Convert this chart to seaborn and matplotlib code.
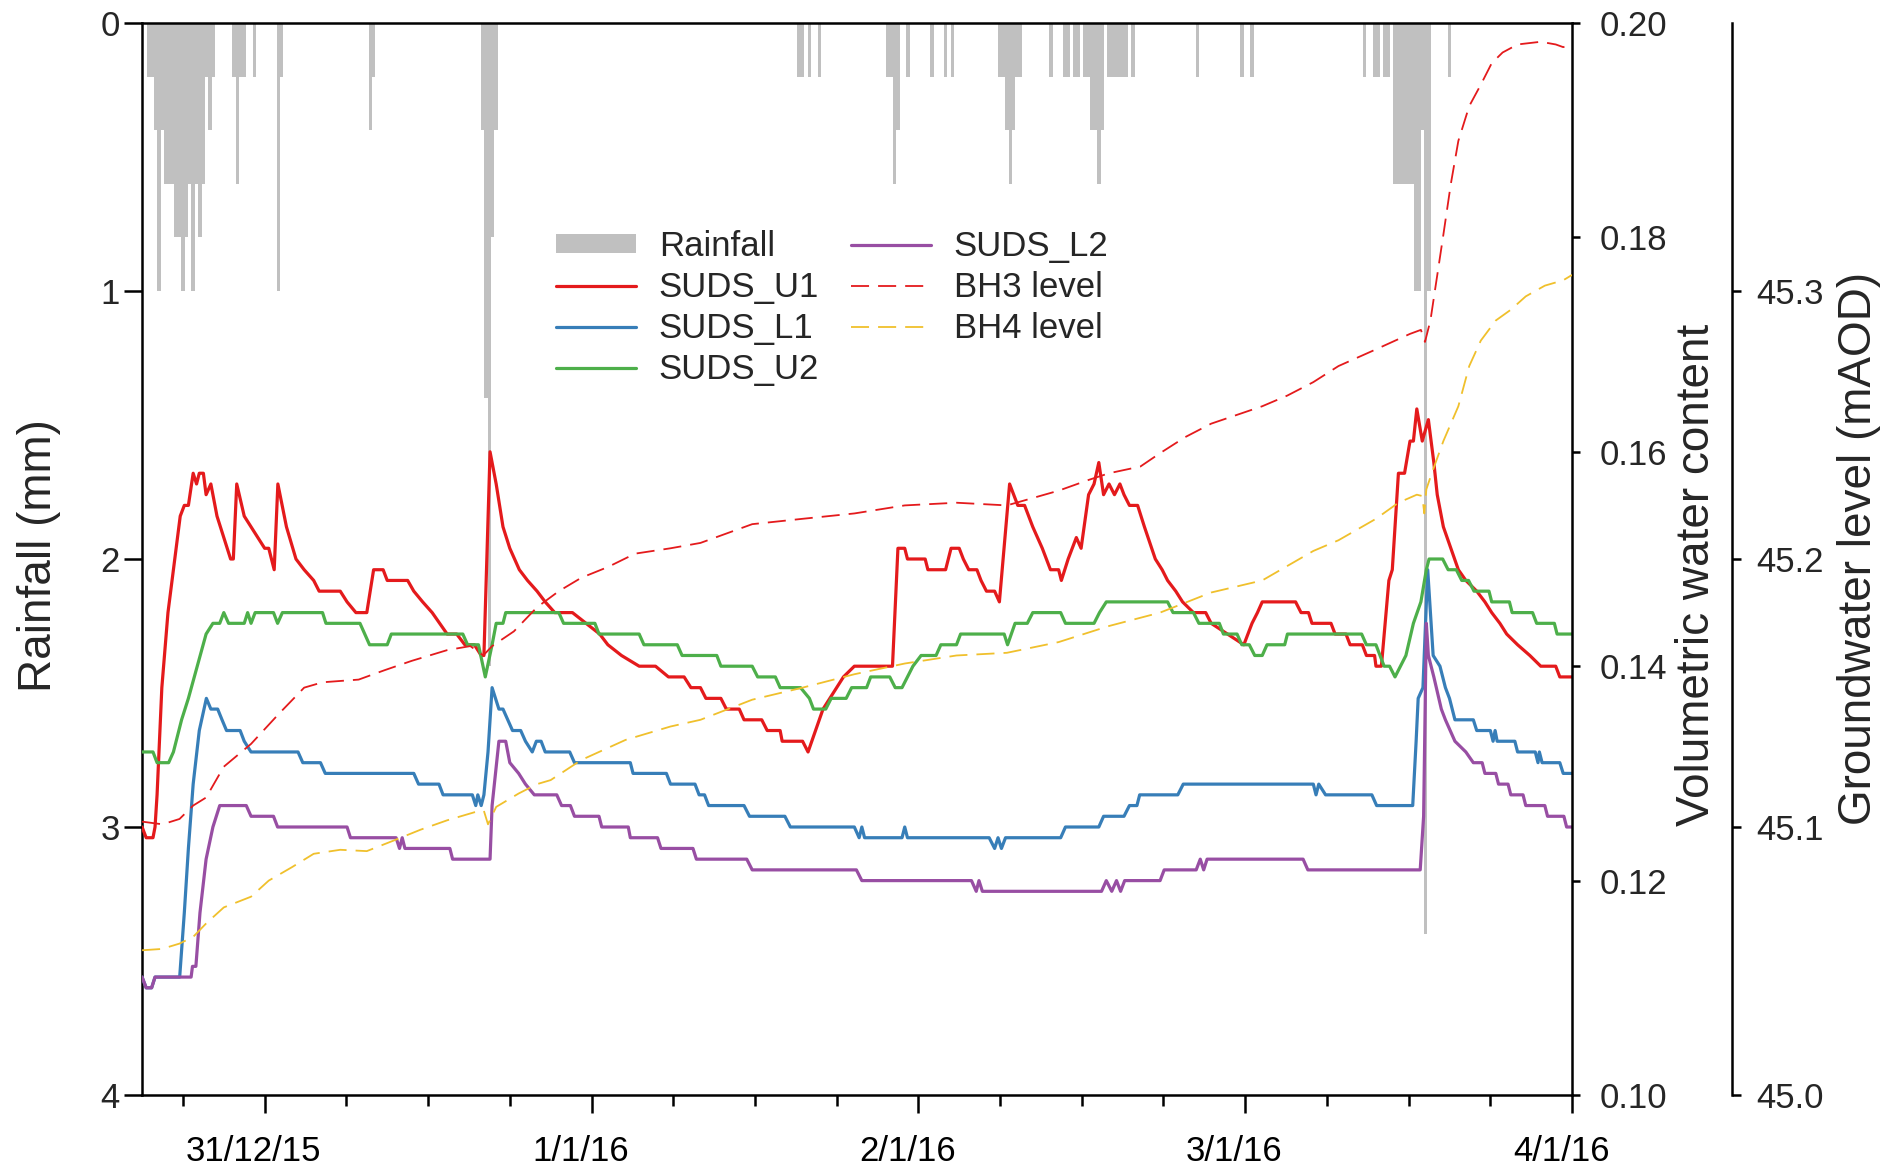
import pandas as pd
import numpy as np
import matplotlib
matplotlib.use('Agg')
import matplotlib.pyplot as plt
import matplotlib.dates as mdates
from matplotlib.transforms import ScaledTranslation
import seaborn as sns

# time origin, all times below are hours after this
t0 = pd.Timestamp('2015-12-30 15:00')

# rainfall, 15 min totals (hour, mm)
rain = [(0.5, 0.2), (0.75, 0.2), (1.0, 0.4), (1.25, 1.0), (1.5, 0.4), (1.75, 0.6), (2.0, 0.6),
        (2.25, 0.6), (2.5, 0.8), (2.75, 0.8), (3.0, 1.0), (3.25, 0.8), (3.5, 0.6), (3.75, 1.0),
        (4.0, 0.6), (4.25, 0.8), (4.5, 0.6), (4.75, 0.2), (5.0, 0.4), (5.25, 0.2),
        (6.75, 0.2), (7.0, 0.6), (7.25, 0.2), (7.5, 0.2), (8.25, 0.2), (10.0, 1.0), (10.25, 0.2),
        (16.75, 0.4), (17.0, 0.2),
        (25.0, 0.4), (25.25, 1.4), (25.5, 2.4), (25.75, 0.8), (26.0, 0.4),
        (48.25, 0.2), (48.5, 0.2), (49.0, 0.2), (49.75, 0.2),
        (54.75, 0.2), (55.0, 0.2), (55.25, 0.6), (55.5, 0.4), (56.25, 0.2), (58.0, 0.2),
        (59.0, 0.2), (59.5, 0.2),
        (63.0, 0.2), (63.25, 0.2), (63.5, 0.4), (63.75, 0.6), (64.0, 0.4), (64.25, 0.2), (64.5, 0.2),
        (66.75, 0.2), (67.75, 0.2), (68.0, 0.2), (68.5, 0.2), (68.75, 0.2),
        (69.25, 0.2), (69.5, 0.2), (69.75, 0.4), (70.0, 0.4), (70.25, 0.6), (70.5, 0.4),
        (71.0, 0.2), (71.25, 0.2), (71.5, 0.2), (71.75, 0.2), (72.0, 0.2), (72.25, 0.2), (72.75, 0.2),
        (77.5, 0.2), (80.75, 0.2), (81.5, 0.2),
        (89.75, 0.2), (90.5, 0.2), (90.75, 0.2), (91.25, 0.2), (91.5, 0.2),
        (92.0, 0.6), (92.25, 0.6), (92.5, 0.6), (92.75, 0.6), (93.0, 0.6), (93.25, 0.6),
        (93.5, 1.0), (93.75, 1.0), (94.0, 0.4), (94.25, 3.4), (94.5, 1.0), (96.0, 0.2)]

# volumetric water content (hour, vwc)
suds_u1 = [(0, 0.125), (0.3, 0.124), (0.8, 0.124), (0.95, 0.125), (1.1, 0.128), (1.45, 0.138),
           (1.9, 0.145), (2.3, 0.149), (2.8, 0.154), (3.1, 0.155), (3.4, 0.155), (3.75, 0.158),
           (4.0, 0.157), (4.2, 0.158), (4.5, 0.158), (4.7, 0.156), (5.05, 0.157), (5.5, 0.154),
           (6.5, 0.150), (6.7, 0.150), (6.95, 0.157), (7.5, 0.154), (8.0, 0.153), (8.5, 0.152),
           (9.0, 0.151), (9.3, 0.151), (9.7, 0.149), (9.97, 0.157), (10.6, 0.153), (11.3, 0.150),
           (11.9, 0.149), (12.6, 0.148), (13.0, 0.147), (14.55, 0.147), (15.05, 0.146), (15.7, 0.145),
           (16.5, 0.145), (17.0, 0.149), (17.7, 0.149), (18.0, 0.148), (19.5, 0.148), (19.95, 0.147),
           (20.6, 0.146), (21.3, 0.145), (22.4, 0.143), (23.1, 0.143), (23.7, 0.142), (24.4, 0.142),
           (24.9, 0.141), (25.1, 0.141), (25.55, 0.160), (26.0, 0.157), (26.5, 0.153), (27.0, 0.151),
           (27.7, 0.149), (28.3, 0.148), (29.0, 0.147), (29.6, 0.146), (30.3, 0.145), (31.6, 0.145),
           (32.6, 0.144), (33.6, 0.143), (34.2, 0.142), (35.2, 0.141), (36.5, 0.140), (37.7, 0.140),
           (38.65, 0.139), (39.8, 0.139), (40.3, 0.138), (41.0, 0.138), (41.4, 0.137), (42.5, 0.137),
           (42.9, 0.136), (43.85, 0.136), (44.2, 0.135), (45.5, 0.135), (45.9, 0.134), (46.85, 0.134),
           (47.0, 0.133), (48.5, 0.133), (48.9, 0.132), (50.0, 0.136), (51.0, 0.138), (51.5, 0.139),
           (52.3, 0.140), (55.1, 0.140), (55.5, 0.151), (56.0, 0.151), (56.2, 0.150), (57.5, 0.150),
           (57.7, 0.149), (59.0, 0.149), (59.4, 0.151), (60.0, 0.151), (60.3, 0.150), (60.7, 0.149),
           (61.3, 0.149), (61.6, 0.148), (62.0, 0.147), (62.6, 0.147), (62.95, 0.146), (63.7, 0.157),
           (64.3, 0.155), (64.8, 0.155), (65.4, 0.153), (66.1, 0.151), (66.7, 0.149), (67.3, 0.149),
           (67.5, 0.148), (68.0, 0.150), (68.6, 0.152), (68.95, 0.151), (69.5, 0.156), (69.9, 0.157),
           (70.25, 0.159), (70.6, 0.156), (71.0, 0.157), (71.4, 0.156), (71.8, 0.157), (72.1, 0.156),
           (72.5, 0.155), (73.1, 0.155), (73.6, 0.153), (74.4, 0.150), (74.9, 0.149), (75.3, 0.148),
           (75.9, 0.147), (76.4, 0.146), (77.2, 0.145), (78.1, 0.145), (78.5, 0.144), (80.9, 0.142),
           (81.5, 0.144), (81.9, 0.145), (82.25, 0.146), (84.7, 0.146), (85.1, 0.145), (85.65, 0.145),
           (85.9, 0.144), (87.3, 0.144), (87.6, 0.143), (88.4, 0.143), (88.7, 0.142), (89.6, 0.142),
           (89.9, 0.141), (90.5, 0.141), (90.6, 0.140), (91.0, 0.140), (91.55, 0.148), (91.8, 0.149),
           (92.25, 0.158), (92.7, 0.158), (93.1, 0.161), (93.35, 0.161), (93.6, 0.164), (94.0, 0.161),
           (94.45, 0.163), (94.85, 0.159), (95.1, 0.156), (95.55, 0.153), (96.1, 0.151), (96.65, 0.149),
           (97.2, 0.148), (98.0, 0.147), (98.6, 0.146), (99.1, 0.145), (99.7, 0.144), (100.2, 0.143),
           (101.0, 0.142), (101.9, 0.141), (102.7, 0.140), (103.8, 0.140), (104.1, 0.139), (105.0, 0.139)]

suds_l1 = [(0, 0.111), (0.3, 0.110), (0.7, 0.110), (0.95, 0.111), (2.76, 0.111), (3.1, 0.117),
           (3.4, 0.123), (3.75, 0.129), (4.2, 0.134), (4.72, 0.137), (5.05, 0.136), (5.55, 0.136),
           (5.87, 0.135), (6.2, 0.134), (7.2, 0.134), (7.5, 0.133), (8.0, 0.132), (11.45, 0.132),
           (11.8, 0.131), (13.1, 0.131), (13.45, 0.130), (19.95, 0.130), (20.3, 0.129), (21.8, 0.129),
           (22.1, 0.128), (24.25, 0.128), (24.5, 0.127), (24.65, 0.128), (24.9, 0.127), (25.1, 0.128),
           (25.4, 0.132), (25.7, 0.138), (26.2, 0.136), (26.5, 0.136), (26.85, 0.135), (27.2, 0.134),
           (27.8, 0.134), (28.15, 0.133), (28.65, 0.132), (28.95, 0.133), (29.3, 0.133), (29.6, 0.132),
           (31.4, 0.132), (31.75, 0.131), (35.85, 0.131), (36.05, 0.130), (38.5, 0.130), (38.8, 0.129),
           (40.6, 0.129), (40.9, 0.128), (41.3, 0.128), (41.6, 0.127), (44.2, 0.127), (44.6, 0.126),
           (47.2, 0.126), (47.6, 0.125), (52.3, 0.125), (52.65, 0.124), (52.85, 0.125), (53.05, 0.124),
           (55.8, 0.124), (56.0, 0.125), (56.2, 0.124), (62.2, 0.124), (62.6, 0.123), (62.85, 0.124),
           (63.1, 0.123), (63.4, 0.124), (67.45, 0.124), (67.8, 0.125), (70.25, 0.125), (70.6, 0.126),
           (72.1, 0.126), (72.5, 0.127), (73.05, 0.127), (73.25, 0.128), (76.05, 0.128), (76.45, 0.129),
           (86.0, 0.129), (86.2, 0.128), (86.4, 0.129), (86.9, 0.128), (90.3, 0.128), (90.65, 0.127),
           (93.3, 0.127), (93.55, 0.133), (93.7, 0.137), (94.05, 0.138), (94.4, 0.149), (94.8, 0.141),
           (95.3, 0.140), (95.7, 0.138), (96.0, 0.137), (96.4, 0.135), (97.75, 0.135), (98.0, 0.134),
           (99.0, 0.134), (99.2, 0.133), (99.35, 0.134), (99.5, 0.133), (100.8, 0.133), (101.0, 0.132),
           (102.3, 0.132), (102.5, 0.131), (102.6, 0.132), (102.8, 0.131), (104.1, 0.131), (104.35, 0.130),
           (105.0, 0.130)]

suds_u2 = [(0, 0.132), (0.8, 0.132), (1.1, 0.131), (1.95, 0.131), (2.3, 0.132), (2.9, 0.135),
           (3.4, 0.137), (4.05, 0.140), (4.7, 0.143), (5.2, 0.144), (5.7, 0.144), (6.0, 0.145),
           (6.35, 0.144), (7.5, 0.144), (7.75, 0.145), (8.0, 0.144), (8.3, 0.145), (9.65, 0.145),
           (9.95, 0.144), (10.3, 0.145), (13.25, 0.145), (13.5, 0.144), (16.0, 0.144), (16.7, 0.142),
           (18.0, 0.142), (18.3, 0.143), (23.55, 0.143), (23.9, 0.142), (24.7, 0.142), (25.2, 0.139),
           (25.7, 0.142), (26.0, 0.144), (26.5, 0.144), (26.7, 0.145), (30.6, 0.145), (30.95, 0.144),
           (33.25, 0.144), (33.55, 0.143), (36.5, 0.143), (36.85, 0.142), (39.3, 0.142), (39.65, 0.141),
           (42.2, 0.141), (42.5, 0.140), (44.8, 0.140), (45.2, 0.139), (46.5, 0.139), (46.85, 0.138),
           (48.35, 0.138), (49.0, 0.137), (49.3, 0.136), (50.2, 0.136), (50.6, 0.137), (51.7, 0.137),
           (52.1, 0.138), (53.2, 0.138), (53.5, 0.139), (54.9, 0.139), (55.3, 0.138), (55.8, 0.138),
           (56.2, 0.139), (56.6, 0.140), (57.2, 0.141), (58.3, 0.141), (58.65, 0.142), (59.8, 0.142),
           (60.1, 0.143), (63.3, 0.143), (63.55, 0.142), (64.1, 0.144), (65.0, 0.144), (65.4, 0.145),
           (67.45, 0.145), (67.8, 0.144), (69.9, 0.144), (70.3, 0.145), (70.8, 0.146), (75.3, 0.146),
           (75.7, 0.145), (77.2, 0.145), (77.6, 0.144), (79.1, 0.144), (79.4, 0.143), (80.4, 0.143),
           (80.75, 0.142), (81.3, 0.142), (81.7, 0.141), (82.25, 0.141), (82.6, 0.142), (83.9, 0.142),
           (84.1, 0.143), (89.55, 0.143), (89.9, 0.142), (90.6, 0.142), (90.9, 0.141), (91.2, 0.140),
           (91.6, 0.140), (92.0, 0.139), (92.4, 0.140), (92.8, 0.141), (93.35, 0.144), (93.9, 0.146),
           (94.3, 0.149), (94.5, 0.150), (95.5, 0.150), (95.9, 0.149), (96.5, 0.149), (96.9, 0.148),
           (97.4, 0.148), (97.8, 0.147), (98.9, 0.147), (99.1, 0.146), (100.4, 0.146), (100.6, 0.145),
           (102.1, 0.145), (102.4, 0.144), (103.7, 0.144), (103.9, 0.143), (105.0, 0.143)]

suds_l2 = [(0, 0.111), (0.3, 0.110), (0.7, 0.110), (0.95, 0.111), (3.6, 0.111), (3.7, 0.112),
           (3.95, 0.112), (4.25, 0.117), (4.7, 0.122), (5.2, 0.125), (5.7, 0.127), (7.65, 0.127),
           (8.0, 0.126), (9.65, 0.126), (9.95, 0.125), (15.05, 0.125), (15.3, 0.124), (18.65, 0.124),
           (18.9, 0.123), (19.1, 0.124), (19.3, 0.123), (22.6, 0.123), (22.8, 0.122), (25.55, 0.122),
           (25.7, 0.127), (26.2, 0.133), (26.7, 0.133), (27.0, 0.131), (27.65, 0.130), (28.15, 0.129),
           (28.8, 0.128), (30.45, 0.128), (30.8, 0.127), (31.45, 0.127), (31.75, 0.126), (33.55, 0.126),
           (33.75, 0.125), (35.7, 0.125), (35.85, 0.124), (37.85, 0.124), (38.1, 0.123), (40.45, 0.123),
           (40.7, 0.122), (44.4, 0.122), (44.8, 0.121), (52.45, 0.121), (52.85, 0.120), (60.9, 0.120),
           (61.25, 0.119), (61.45, 0.120), (61.7, 0.119), (70.45, 0.119), (70.8, 0.120), (71.2, 0.119),
           (71.55, 0.120), (71.85, 0.119), (72.15, 0.120), (74.75, 0.120), (75.05, 0.121), (77.4, 0.121),
           (77.7, 0.122), (77.95, 0.121), (78.2, 0.122), (85.25, 0.122), (85.6, 0.121), (93.85, 0.121),
           (94.1, 0.126), (94.3, 0.144), (94.45, 0.141), (94.85, 0.139), (95.4, 0.136), (95.7, 0.135),
           (96.4, 0.133), (97.2, 0.132), (97.75, 0.131), (98.4, 0.131), (98.6, 0.130), (99.4, 0.130),
           (99.6, 0.129), (100.3, 0.129), (100.5, 0.128), (101.4, 0.128), (101.6, 0.127), (103.0, 0.127),
           (103.2, 0.126), (104.4, 0.126), (104.6, 0.125), (105.0, 0.125)]

# groundwater level (hour, mAOD)
bh3 = [(0, 45.102), (1.5, 45.101), (2.75, 45.103), (3.75, 45.108), (4.7, 45.111), (6.0, 45.1225),
       (8.0, 45.131), (10.0, 45.142), (11.9, 45.152), (13.25, 45.154), (15.9, 45.155), (17.8, 45.1585),
       (19.8, 45.162), (22.4, 45.166), (24.1, 45.1675), (25.05, 45.164), (25.7, 45.1675), (27.3, 45.173),
       (29.0, 45.182), (30.6, 45.188), (32.25, 45.193), (34.2, 45.197), (36.2, 45.202), (38.8, 45.204),
       (41.0, 45.206), (44.8, 45.213), (48.5, 45.215), (52.3, 45.217), (56.0, 45.220), (59.8, 45.221),
       (63.5, 45.220), (67.3, 45.2255), (69.5, 45.2295), (71.0, 45.232), (73.3, 45.2345), (74.75, 45.2395),
       (76.6, 45.2455), (78.5, 45.2505), (82.25, 45.257), (84.1, 45.261), (86.0, 45.266), (87.85, 45.272),
       (90.5, 45.278), (93.1, 45.284), (93.9, 45.2855), (94.2, 45.281), (94.6, 45.289), (95.0, 45.3025),
       (95.55, 45.321), (96.1, 45.340), (96.65, 45.356), (97.45, 45.369), (98.3, 45.377), (99.1, 45.385),
       (99.9, 45.389), (101.0, 45.392), (102.7, 45.393), (103.8, 45.392), (104.35, 45.391), (105.0, 45.392)]

bh4 = [(0, 45.054), (1.45, 45.0545), (2.75, 45.0565), (3.75, 45.059), (4.7, 45.064), (6.0, 45.070),
       (8.0, 45.074), (9.3, 45.080), (11.0, 45.085), (12.6, 45.090), (14.55, 45.0915), (16.5, 45.091),
       (18.5, 45.095), (20.45, 45.099), (22.4, 45.1025), (24.4, 45.1055), (25.1, 45.106), (25.4, 45.101),
       (26.0, 45.1075), (27.65, 45.1125), (29.0, 45.116), (30.0, 45.1175), (32.25, 45.125), (35.5, 45.1325),
       (38.8, 45.1375), (41.0, 45.140), (44.8, 45.1475), (48.5, 45.152), (52.3, 45.157), (56.0, 45.161),
       (59.8, 45.164), (63.5, 45.165), (67.3, 45.169), (71.0, 45.175), (74.75, 45.180), (78.5, 45.1875),
       (82.25, 45.192), (86.0, 45.203), (87.85, 45.207), (90.6, 45.215), (92.25, 45.221), (93.6, 45.224),
       (94.0, 45.2235), (94.15, 45.217), (94.3, 45.226), (94.7, 45.232), (95.55, 45.244), (96.65, 45.257),
       (97.45, 45.272), (98.3, 45.2815), (99.4, 45.289), (100.5, 45.293), (101.6, 45.298), (103.0, 45.302),
       (104.35, 45.304), (105.0, 45.306)]


def to_df(pairs):
    d = pd.DataFrame(pairs, columns=['h', 'v'])
    d['t'] = t0 + pd.to_timedelta(d['h'], unit='h')
    return d


sns.set_theme(style='ticks')
plt.rcParams['font.family'] = ['Liberation Sans', 'DejaVu Sans']
plt.rcParams['axes.linewidth'] = 1.8

fig = plt.figure(figsize=(18.87, 11.68), dpi=100)
ax = fig.add_axes([0.0753, 0.0625, 0.7578, 0.9178])
ax2 = ax.twinx()
ax3 = ax.twinx()

# rainfall bars hanging from the top
rdf = to_df(rain)
bars = ax.bar(rdf['t'], rdf['v'], width=0.25 / 24, color='#c0c0c0', linewidth=0, label='Rainfall')
ax.set_ylim(4, 0)
ax.set_yticks([0, 1, 2, 3, 4])
ax.set_ylabel('Rainfall (mm)', fontsize=33)

handles = [bars]
labels = ['Rainfall']

vwc_series = [(suds_u1, 'SUDS_U1', '#e41a1c'),
              (suds_l1, 'SUDS_L1', '#377eb8'),
              (suds_u2, 'SUDS_U2', '#4daf4a'),
              (suds_l2, 'SUDS_L2', '#984ea3')]
for pairs, name, col in vwc_series:
    d = to_df(pairs)
    sns.lineplot(data=d, x='t', y='v', ax=ax2, color=col, linewidth=2.3, legend=False)
    handles.append(ax2.lines[-1])
    labels.append(name)

gw_series = [(bh3, 'BH3 level', '#e41a1c'), (bh4, 'BH4 level', '#f0c02c')]
for pairs, name, col in gw_series:
    d = to_df(pairs)
    sns.lineplot(data=d, x='t', y='v', ax=ax3, color=col, linewidth=1.3, legend=False)
    ln = ax3.lines[-1]
    ln.set_dashes([10, 5])
    handles.append(ln)
    labels.append(name)

ax2.set_ylim(0.10, 0.20)
ax2.set_yticks(np.arange(0.10, 0.201, 0.02))
ax2.yaxis.set_major_formatter(plt.FormatStrFormatter('%.2f'))
ax2.set_ylabel('Volumetric water content', fontsize=33)
ax2.set_xlabel('')

ax3.set_ylim(45.0, 45.4)
ax3.set_yticks([45.0, 45.1, 45.2, 45.3])
ax3.yaxis.set_major_formatter(plt.FormatStrFormatter('%.1f'))
ax3.set_ylabel('Groundwater level (mAOD)', fontsize=33)
ax3.set_xlabel('')
ax3.spines['right'].set_position(('axes', 1 + 160 / 1430))

for a in (ax2, ax3):
    for s in ('left', 'top', 'bottom'):
        a.spines[s].set_visible(False)
for a in (ax, ax2, ax3):
    for s in a.spines.values():
        s.set_linewidth(1.8)
        s.set_color('black')
ax.spines['right'].set_visible(False)

# x axis: days with 6 hourly minor ticks
ax.set_xlim(t0, t0 + pd.Timedelta(hours=105))
ax.xaxis.set_major_locator(mdates.DayLocator())
ax.xaxis.set_minor_locator(mdates.HourLocator(byhour=[6, 12, 18]))
ax.xaxis.set_major_formatter(plt.FuncFormatter(
    lambda x, p: '{d.day}/{d.month}/{d:%y}'.format(d=mdates.num2date(x))))
ax.set_xlabel('')

ax.tick_params(axis='x', which='major', direction='out', length=13, width=1.8, labelsize=25,
               pad=16, color='black', labelcolor='black')
ax.tick_params(axis='x', which='minor', direction='out', length=8, width=1.8, color='black')
ax.tick_params(axis='y', direction='out', length=13, width=1.8, labelsize=25, pad=3,
               left=True, right=False, color='black')
ax2.tick_params(axis='y', direction='out', length=6, width=1.8, labelsize=25, pad=14,
                right=True, left=False, color='black')
ax3.tick_params(axis='y', direction='out', length=6.5, width=1.8, labelsize=25, pad=11,
                right=True, left=False, color='black')

for lab in ax.get_xticklabels():
    lab.set_transform(lab.get_transform() + ScaledTranslation(-0.11, 0, fig.dpi_scale_trans))

ax.yaxis.set_label_coords(-0.072, 0.503)
ax2.yaxis.set_label_coords(1.0874, 0.485)
ax3.yaxis.set_label_coords(1.2007, 0.510)
for a in (ax, ax2, ax3):
    a.yaxis.label.set_va('center')
    a.yaxis.label.set_ha('center')

ax3.legend(handles, labels, ncol=2, loc='upper left', bbox_to_anchor=(0.2946, 0.803),
           bbox_transform=fig.transFigure, frameon=False, fontsize=25, handlelength=2.3,
           handleheight=0.45, handletextpad=0.66, columnspacing=0.92, labelspacing=0.23,
           borderpad=0, borderaxespad=0)

fig.savefig('out.png', dpi=100)
